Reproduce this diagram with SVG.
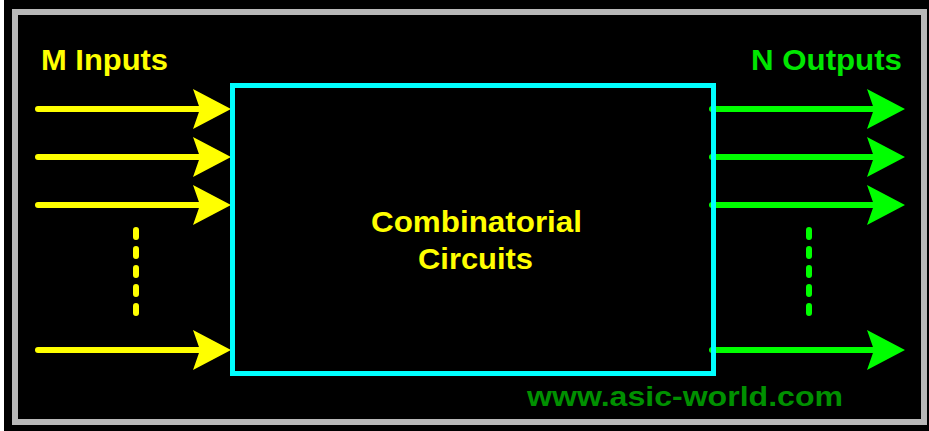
<svg xmlns="http://www.w3.org/2000/svg" width="929" height="431" viewBox="0 0 929 431">
<style>
.t{font-family:"Liberation Sans",Arial,sans-serif;font-weight:bold;font-size:30px}
.y{fill:#ffff00}
.g{fill:#00e600}
.in{stroke:#ffff00;stroke-width:6;stroke-linecap:round;fill:none}
.out{stroke:#00ff00;stroke-width:6;stroke-linecap:round;fill:none}
.dy{stroke:#ffff00;stroke-width:6;stroke-dasharray:7 12;stroke-linecap:round;fill:none}
.dg{stroke:#00ff00;stroke-width:6;stroke-dasharray:7 12;stroke-linecap:round;fill:none}
</style>
<defs>
<polygon id="hy" points="-38,-20 0,0 -38,20 -31,0" fill="#ffff00"/>
<polygon id="hg" points="-38,-20 0,0 -38,20 -31,0" fill="#00ff00"/>
</defs>
<rect x="0" y="0" width="929" height="431" fill="#ffffff"/>
<rect x="4" y="0" width="925" height="431" fill="#000000"/>
<rect x="15" y="12" width="909" height="410" fill="#000000" stroke="#b8b8b8" stroke-width="6"/>
<g id="labels">
<text class="t y" x="41" y="70" textLength="127" lengthAdjust="spacingAndGlyphs">M Inputs</text>
<text class="t g" x="751" y="70" textLength="151" lengthAdjust="spacingAndGlyphs">N Outputs</text>
</g>
<g id="connectors">
<line class="in" x1="38" y1="109" x2="200" y2="109"/><use href="#hy" x="231" y="109"/>
<line class="in" x1="38" y1="157" x2="200" y2="157"/><use href="#hy" x="231" y="157"/>
<line class="in" x1="38" y1="205" x2="200" y2="205"/><use href="#hy" x="231" y="205"/>
<line class="in" x1="38" y1="350" x2="200" y2="350"/><use href="#hy" x="231" y="350"/>
<line class="dy" x1="136" y1="230" x2="136" y2="316"/>
<line class="out" x1="712" y1="109" x2="874" y2="109"/><use href="#hg" x="905" y="109"/>
<line class="out" x1="712" y1="157" x2="874" y2="157"/><use href="#hg" x="905" y="157"/>
<line class="out" x1="712" y1="205" x2="874" y2="205"/><use href="#hg" x="905" y="205"/>
<line class="out" x1="712" y1="350" x2="874" y2="350"/><use href="#hg" x="905" y="350"/>
<line class="dg" x1="809" y1="230" x2="809" y2="316"/>
</g>
<g id="circuit">
<rect x="232.5" y="85.5" width="481" height="288" fill="none" stroke="#00ffff" stroke-width="5"/>
<text class="t y" x="476.5" y="232" text-anchor="middle" textLength="211" lengthAdjust="spacingAndGlyphs">Combinatorial</text>
<text class="t y" x="475.5" y="269" text-anchor="middle" textLength="115" lengthAdjust="spacingAndGlyphs">Circuits</text>
</g>
<text class="t" x="527" y="406" font-size="28" fill="#009000" textLength="316" lengthAdjust="spacingAndGlyphs" style="font-size:28px">www.asic-world.com</text>
</svg>
